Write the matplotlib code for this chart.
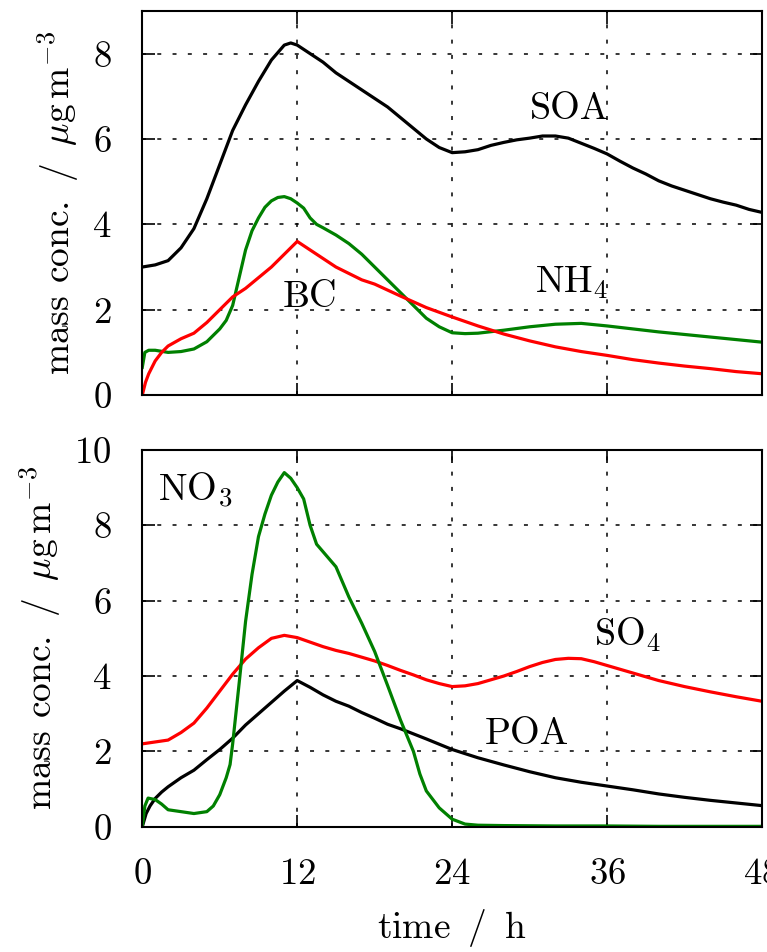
import matplotlib
matplotlib.use("Agg")
import matplotlib.pyplot as plt

plt.rcParams['font.family'] = 'serif'
plt.rcParams['font.serif'] = ['cmr10']
plt.rcParams['mathtext.fontset'] = 'cm'
plt.rcParams['axes.formatter.use_mathtext'] = True
plt.rcParams['axes.unicode_minus'] = False

# ---------------- data (top panel) ----------------
t_soa = [0, 1, 2, 3, 4, 5, 6, 7, 8, 9, 10, 11, 11.5, 12, 13, 14, 15, 16, 17, 18, 19, 20,
         21, 22, 23, 24, 25, 26, 27, 28, 29, 30, 31, 32, 33, 34, 35, 36, 37, 38, 39, 40,
         41, 42, 43, 44, 45, 46, 47, 48]
soa = [3.0, 3.05, 3.15, 3.45, 3.9, 4.6, 5.4, 6.2, 6.8, 7.35, 7.85, 8.2, 8.25, 8.2, 8.0,
       7.8, 7.55, 7.35, 7.15, 6.95, 6.75, 6.5, 6.25, 6.0, 5.8, 5.68, 5.7, 5.75, 5.85, 5.92,
       5.98, 6.02, 6.07, 6.07, 6.02, 5.9, 5.78, 5.65, 5.48, 5.32, 5.18, 5.02, 4.9, 4.8,
       4.7, 4.6, 4.52, 4.45, 4.35, 4.28]

t_bc = [0, 0.25, 0.5, 1, 1.5, 2, 3, 4, 5, 6, 7, 8, 9, 10, 11, 12, 13, 14, 15, 16, 17, 18,
        20, 22, 24, 26, 28, 30, 32, 34, 36, 38, 40, 42, 44, 46, 48]
bc = [0, 0.3, 0.5, 0.8, 1.0, 1.15, 1.32, 1.45, 1.7, 2.0, 2.3, 2.5, 2.75, 3.0, 3.3, 3.6,
      3.4, 3.2, 3.0, 2.85, 2.7, 2.6, 2.32, 2.05, 1.83, 1.62, 1.43, 1.27, 1.13, 1.02, 0.93,
      0.83, 0.75, 0.68, 0.62, 0.55, 0.5]

t_nh4 = [0, 0.2, 0.5, 1, 2, 3, 4, 5, 6, 6.5, 7, 7.5, 8, 8.5, 9, 9.5, 10, 10.5, 11, 11.5,
         12, 12.5, 13, 13.5, 14, 15, 16, 17, 18, 19, 20, 21, 22, 23, 24, 25, 26, 28, 30,
         32, 34, 36, 38, 40, 42, 44, 46, 48]
nh4 = [0.65, 1.0, 1.05, 1.05, 1.0, 1.02, 1.08, 1.25, 1.55, 1.75, 2.1, 2.75, 3.4, 3.85,
       4.15, 4.4, 4.55, 4.63, 4.65, 4.6, 4.5, 4.38, 4.15, 4.0, 3.92, 3.75, 3.55, 3.3, 3.0,
       2.7, 2.4, 2.1, 1.8, 1.6, 1.46, 1.44, 1.45, 1.52, 1.6, 1.66, 1.68, 1.62, 1.55, 1.48,
       1.42, 1.36, 1.3, 1.24]

# ---------------- data (bottom panel) ----------------
t_no3 = [0, 0.2, 0.45, 1, 1.5, 2, 3, 4, 5, 5.5, 6, 6.5, 6.8, 7, 7.5, 8, 8.5, 9, 9.5, 10,
         10.5, 11, 11.5, 12, 12.5, 13, 13.5, 14, 15, 16, 17, 18, 19, 20, 21, 21.5, 22, 23,
         24, 25, 26, 28, 32, 36, 40, 44, 48]
no3 = [0, 0.55, 0.76, 0.72, 0.6, 0.45, 0.4, 0.35, 0.4, 0.55, 0.85, 1.3, 1.65, 2.2, 3.8,
       5.45, 6.7, 7.7, 8.3, 8.8, 9.15, 9.4, 9.25, 9.0, 8.7, 8.0, 7.5, 7.3, 6.9, 6.1, 5.4,
       4.65, 3.75, 2.83, 2.0, 1.4, 0.95, 0.5, 0.2, 0.07, 0.04, 0.03, 0.02, 0.02, 0.01,
       0.01, 0.01]

t_so4 = [0, 1, 2, 3, 4, 5, 6, 7, 8, 9, 10, 11, 12, 13, 14, 15, 16, 17, 18, 19, 20, 21, 22,
         23, 24, 25, 26, 27, 28, 29, 30, 31, 32, 33, 34, 35, 36, 37, 38, 39, 40, 42, 44,
         46, 48]
so4 = [2.2, 2.25, 2.3, 2.5, 2.75, 3.15, 3.6, 4.05, 4.45, 4.75, 5.0, 5.08, 5.02, 4.9, 4.78,
       4.68, 4.6, 4.5, 4.4, 4.28, 4.15, 4.03, 3.9, 3.8, 3.72, 3.74, 3.8, 3.9, 4.0, 4.12,
       4.25, 4.36, 4.44, 4.47, 4.46, 4.38, 4.28, 4.18, 4.08, 3.98, 3.88, 3.72, 3.58, 3.45,
       3.33]

t_poa = [0, 0.3, 0.6, 1, 1.5, 2, 3, 4, 5, 6, 7, 8, 9, 10, 11, 12, 13, 14, 15, 16, 17, 18,
         19, 20, 22, 24, 26, 28, 30, 32, 34, 36, 38, 40, 42, 44, 46, 48]
poa = [0, 0.35, 0.55, 0.75, 0.92, 1.06, 1.3, 1.5, 1.78, 2.05, 2.35, 2.7, 3.0, 3.3, 3.6,
       3.88, 3.7, 3.5, 3.33, 3.2, 3.03, 2.88, 2.72, 2.6, 2.33, 2.05, 1.83, 1.64, 1.46, 1.3,
       1.18, 1.08, 0.98, 0.87, 0.78, 0.7, 0.63, 0.56]

x_ticks = [0, 12, 24, 36, 48]
y_ticks_top = [0, 2, 4, 6, 8]
y_ticks_bot = [0, 2, 4, 6, 8, 10]

BLACK, RED, GREEN = '#000000', '#ff0000', '#008000'
LW = 2.3
FS = 26.5
FS_LAB = 27
FS_ANN = 27.5

fig = plt.figure(figsize=(7.67, 9.52), dpi=100)
ax1 = fig.add_axes([0.1855, 0.585, 0.808, 0.4035])
ax2 = fig.add_axes([0.1855, 0.1316, 0.808, 0.3957])


def style(ax, yticks, ymax):
    ax.set_xlim(0, 48)
    ax.set_ylim(0, ymax)
    ax.set_xticks(x_ticks)
    ax.set_yticks(yticks)
    ax.tick_params(direction='in', length=9, width=1.2, top=True, right=True,
                   labelsize=FS, pad=22)
    ax.grid(True, color='black', linestyle=(0, (2.6, 7.4)), linewidth=1.1)
    for s in ax.spines.values():
        s.set_linewidth(1.5)
    ax.set_ylabel(r'mass conc. $\,$/$\,$ $\mu$g$\,$m$^{-3}$', fontsize=FS_LAB, labelpad=8)


ax1.plot(t_soa, soa, color=BLACK, lw=LW)
ax1.plot(t_nh4, nh4, color=GREEN, lw=LW)
ax1.plot(t_bc, bc, color=RED, lw=LW)
style(ax1, y_ticks_top, 9)
ax1.tick_params(labelbottom=False)
ax1.text(30.0, 6.46, 'SOA', fontsize=FS_ANN, ha='left', va='baseline')
ax1.text(10.85, 2.06, 'BC', fontsize=FS_ANN, ha='left', va='baseline')
ax1.text(30.4, 2.41, r'NH$_4$', fontsize=FS_ANN, ha='left', va='baseline')

ax2.plot(t_so4, so4, color=RED, lw=LW)
ax2.plot(t_poa, poa, color=BLACK, lw=LW)
ax2.plot(t_no3, no3, color=GREEN, lw=LW)
style(ax2, y_ticks_bot, 10)
ax2.set_xlabel(r'time $\,$/$\,$ h', fontsize=FS_LAB, labelpad=12)
ax2.text(1.24, 8.65, r'NO$_3$', fontsize=FS_ANN, ha='left', va='baseline')
ax2.text(35.0, 4.82, r'SO$_4$', fontsize=FS_ANN, ha='left', va='baseline')
ax2.text(26.5, 2.2, 'POA', fontsize=FS_ANN, ha='left', va='baseline',
         bbox=dict(facecolor='white', edgecolor='none', pad=0, alpha=0.7))

fig.savefig('out.png', dpi=100)
